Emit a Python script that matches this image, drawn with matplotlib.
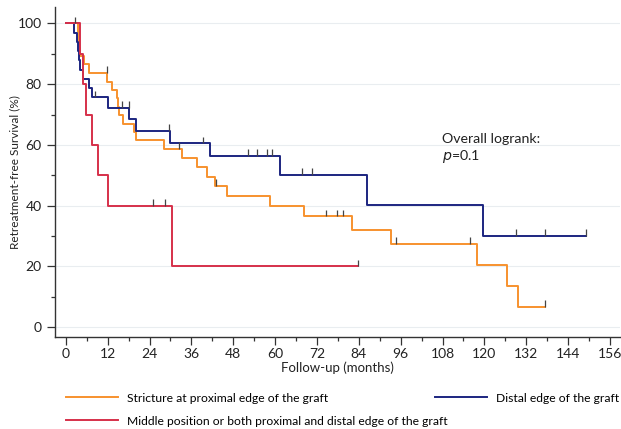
import numpy as np
import matplotlib
matplotlib.use("Agg")
import matplotlib.pyplot as plt
from matplotlib.ticker import MultipleLocator

plt.rcParams['font.family'] = ['Lato', 'DejaVu Sans']

# Kaplan-Meier step data (months, survival %)
prox_t = [0, 3.6, 3.7, 3.8, 4.0, 5.2, 6.7, 11.9, 13.2, 14.8, 15.0, 15.1, 16.5, 19.4, 20.1,
          28.0, 33.2, 37.7, 40.4, 42.8, 46.3, 58.5, 68.4, 81.9, 93.1, 117.8, 126.4, 129.7, 137.3]
prox_s = [100, 97.3, 94.6, 91.9, 89.2, 86.5, 83.8, 80.8, 78.2, 75.3, 72.5, 69.8, 67.0, 64.3, 61.5,
          58.7, 55.8, 52.6, 49.5, 46.5, 43.2, 40.0, 36.5, 31.9, 27.4, 20.4, 13.6, 6.8, 6.8]
prox_cens = [2.5, 11.8, 32.5, 43.0, 74.6, 77.6, 79.5, 94.6, 116.0, 137.3]

dist_t = [0, 2.2, 3.3, 3.6, 3.9, 4.1, 4.9, 6.5, 7.4, 12.2, 18.2, 20.1, 29.9, 41.4, 61.4,
          86.2, 119.7, 149.1]
dist_s = [100, 97.0, 93.9, 90.9, 87.9, 84.8, 81.8, 78.7, 75.7, 72.2, 68.5, 64.7, 60.5, 56.4, 50.1,
          40.1, 30.0, 30.0]
dist_cens = [8.5, 16.0, 18.1, 29.6, 39.3, 52.2, 54.7, 57.8, 59.0, 67.8, 70.5, 129.0, 137.3, 149.1]

mid_t = [0, 4.0, 5.0, 5.8, 7.4, 9.2, 12.2, 30.4, 83.8]
mid_s = [100, 90, 80, 70, 60, 50, 40, 20, 20]
mid_cens = [25.1, 28.4, 83.8]

labels = ['Stricture at proximal edge of the graft',
          'Distal edge of the graft',
          'Middle position or both proximal and distal edge of the graft']
colors = ['#F7922E', '#1C2580', '#D6304A']

x_ticks = np.arange(0, 157, 12)
y_ticks = np.arange(0, 101, 20)


def level_at(t, times, surv):
    i = np.searchsorted(times, t, side='right') - 1
    return surv[max(i, 0)]


fig = plt.figure(figsize=(6.21, 4.29), dpi=100)
ax = fig.add_axes([0.0886, 0.2145, 0.9094, 0.7692])

for yt in y_ticks:
    ax.axhline(yt, color='#e9edf0', lw=0.8, zorder=0)

groups = [(prox_t, prox_s, prox_cens), (dist_t, dist_s, dist_cens), (mid_t, mid_s, mid_cens)]
lines = []
for (t, s, cens), c, lab in zip(groups, colors, labels):
    ln, = ax.step(t, s, where='post', color=c, lw=1.4, label=lab, zorder=3)
    lines.append(ln)
    lv = [level_at(ct, t, s) for ct in cens]
    ax.vlines(cens, lv, np.array(lv) + 2.2, color='#444444', lw=0.9, zorder=4)

ax.set_xlim(-3.1, 158.8)
ax.set_ylim(-3.2, 105.4)
ax.set_xticks(x_ticks)
ax.set_yticks(y_ticks)
ax.xaxis.set_minor_locator(MultipleLocator(6))
ax.yaxis.set_minor_locator(MultipleLocator(10))
ax.tick_params(axis='both', which='major', length=6, width=0.9, color='#333333',
               labelsize=10, labelcolor='#222222')
ax.tick_params(axis='x', which='major', pad=2)
ax.tick_params(axis='both', which='minor', length=3, width=0.9, color='#333333')
for sp in ['top', 'right']:
    ax.spines[sp].set_visible(False)
for sp in ['left', 'bottom']:
    ax.spines[sp].set_color('#333333')
    ax.spines[sp].set_linewidth(1.0)

ax.set_xlabel('Follow-up (months)', fontsize=9.5, color='#222222', labelpad=1)
ax.set_ylabel('Retreatment-free Survival (%)', fontsize=8.5, color='#222222', labelpad=-2)

ax.text(0.685, 0.600, 'Overall logrank:', transform=ax.transAxes, fontsize=10.2,
        color='#222222', va='center')
ax.text(0.685, 0.548, '$p$=0.1', transform=ax.transAxes, fontsize=10.2,
        color='#222222', va='center')

fig.legend(handles=[lines[0], lines[2]], labels=[labels[0], labels[2]],
           loc='upper left', bbox_to_anchor=(0.106, 0.085), frameon=False,
           fontsize=8.7, handlelength=4.3, handletextpad=0.75, labelspacing=1.0,
           borderaxespad=0, borderpad=0)
fig.legend(handles=[lines[1]], labels=[labels[1]],
           loc='upper left', bbox_to_anchor=(0.700, 0.085), frameon=False,
           fontsize=8.7, handlelength=4.3, handletextpad=0.75,
           borderaxespad=0, borderpad=0)

fig.savefig('out.png', dpi=100)
